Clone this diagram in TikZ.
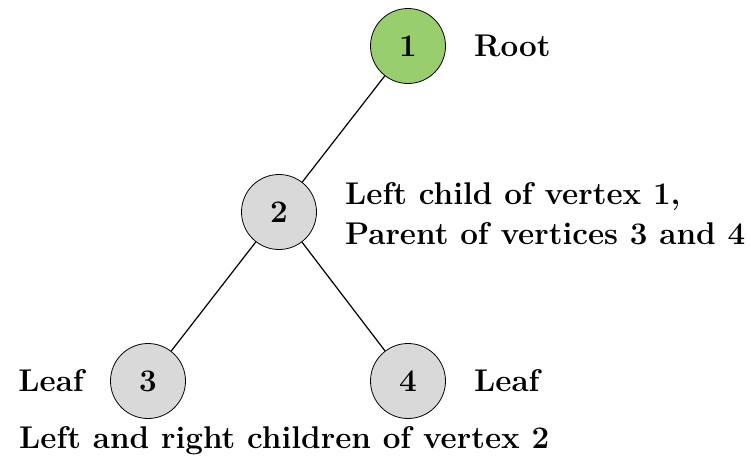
\documentclass[tikz,border=0pt]{standalone}
\begin{document}
\begin{tikzpicture}[x=1pt,y=-1pt,
  vtx/.style={circle,draw=black,line width=0.8pt,minimum size=75pt,inner sep=0pt,font=\fontsize{31.4}{38}\selectfont\bfseries},
  lbl/.style={inner sep=0pt,font=\fontsize{31.4}{40}\selectfont\bfseries},
  edge/.style={line width=1.2pt}]
\definecolor{rootgreen}{RGB}{152,206,110}
\definecolor{vgray}{RGB}{217,217,217}
\useasboundingbox (0,0) rectangle (750,472);
\node[vtx,fill=rootgreen] (n1) at (408,46) {1};
\node[vtx,fill=vgray] (n2) at (279,212) {2};
\node[vtx,fill=vgray] (n3) at (148,381) {3};
\node[vtx,fill=vgray] (n4) at (408,381) {4};
\draw[edge] (n1) -- (n2);
\draw[edge] (n2) -- (n3);
\draw[edge] (n2) -- (n4);
\node[lbl,anchor=west] (lroot) at (474,46) {Root};
\node[lbl,anchor=west,align=left] (lmid) at (345,214) {Left child of vertex 1,\\Parent of vertices 3 and 4};
\node[lbl,anchor=east] (lleaf3) at (84,381) {Leaf};
\node[lbl,anchor=west] (lleaf4) at (474,381) {Leaf};
\node[lbl,anchor=west] (lbot) at (19,441) {Left and right children of vertex 2};
\end{tikzpicture}
\end{document}
